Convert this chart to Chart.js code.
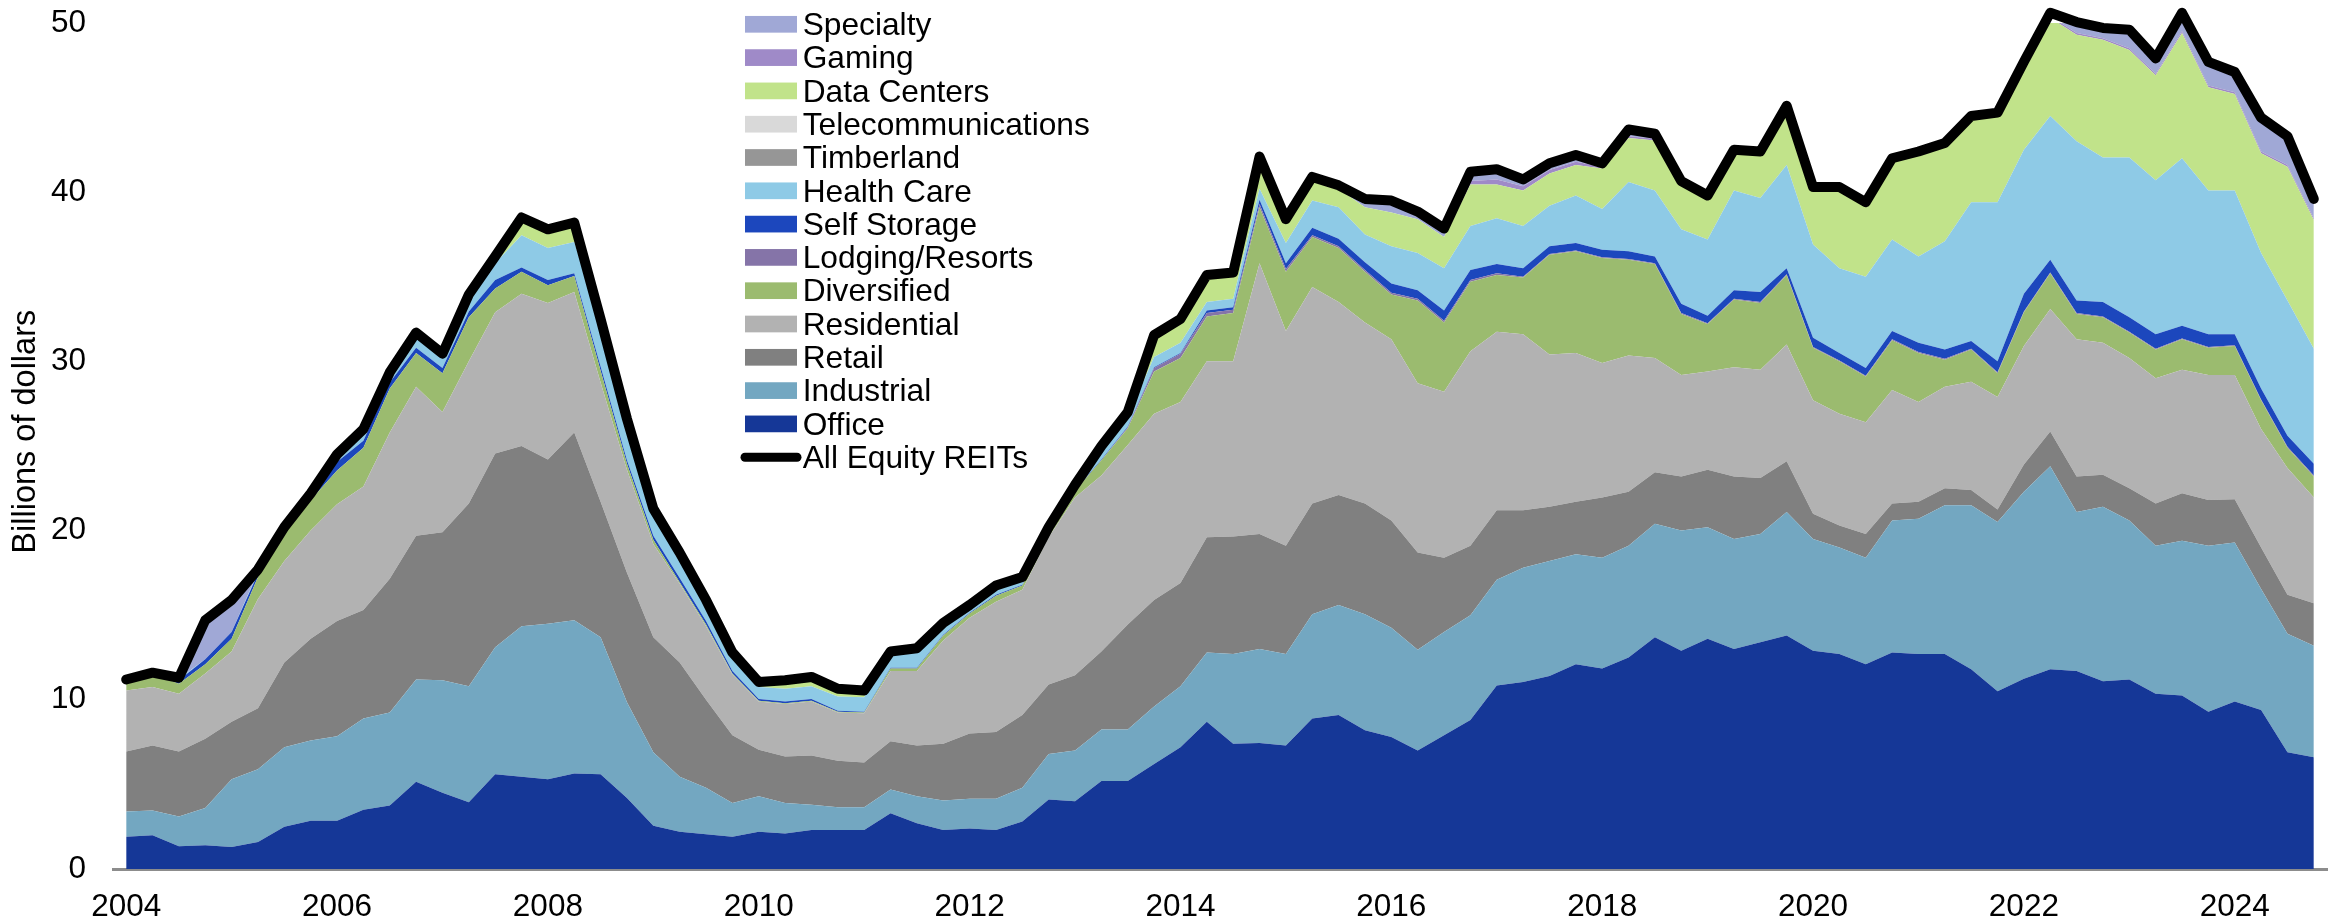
<!DOCTYPE html>
<html>
<head>
<meta charset="utf-8">
<script src="https://cdn.jsdelivr.net/npm/chart.js@4.4.1/dist/chart.umd.min.js"></script>
<style>
html,body{margin:0;padding:0;background:#fff;overflow:hidden;}
#wrap{width:2334px;height:922px;position:relative;}
</style>
</head>
<body>
<div id="wrap"><canvas id="c" width="2334" height="922"></canvas></div>
<script>
// ---- categories / tick labels ----
const yearTicks = ['2004','2006','2008','2010','2012','2014','2016','2018','2020','2022','2024'];
const quarters = [];
for (let y = 2004; y <= 2024; y++) { for (let q = 1; q <= 4; q++) quarters.push(y + 'Q' + q); }
const yAxisTitle = 'Billions of dollars';

// ---- series values (billions of dollars), 2004Q1 .. 2024Q4 ----
const office = [1.9,2.0,1.35,1.4,1.3,1.6,2.5,2.85,2.85,3.5, 3.75,5.15,4.5,3.95,5.6,5.45,5.3,5.65,5.6,4.2, 2.55,2.2,2.05,1.9,2.2,2.1,2.3,2.3,2.3,3.3, 2.7,2.3,2.4,2.3,2.8,4.1,4.0,5.2,5.2,6.2, 7.2,8.7,7.4,7.45,7.3,8.9,9.1,8.2,7.8,7.0, 7.9,8.8,10.85,11.05,11.4,12.1,11.85,12.5,13.7,12.9, 13.6,13.0,13.4,13.8,12.9,12.7,12.1,12.8,12.7,12.7, 11.8,10.5,11.25,11.8,11.7,11.1,11.2,10.35,10.25,9.3, 9.9,9.4,6.9,6.6];
const industrial = [1.5,1.45,1.75,2.2,4.0,4.3,4.7,4.75,5.0,5.4, 5.5,6.05,6.65,6.85,7.5,8.9,9.2,9.05,8.1,5.65, 4.35,3.25,2.75,2.0,2.1,1.8,1.5,1.35,1.35,1.4, 1.6,1.75,1.75,1.85,2.0,2.7,3.0,3.05,3.05,3.4, 3.6,4.1,5.3,5.55,5.4,6.15,6.5,6.85,6.45,5.95, 6.1,6.2,6.25,6.75,6.8,6.5,6.55,6.6,6.7,7.1, 6.6,6.5,6.4,7.3,6.6,6.3,6.3,7.8,8.0,8.8, 9.7,10.0,11.05,12.0,9.4,10.3,9.4,8.75,9.15,9.8, 9.4,7.15,7.0,6.6];
const retail = [3.55,3.85,3.85,4.1,3.4,3.6,5.0,6.0,6.8,6.4, 7.9,8.5,8.75,10.8,11.45,10.65,9.7,11.1,8.0,7.65, 6.8,6.75,5.2,4.0,2.75,2.75,2.9,2.75,2.65,2.85, 3.0,3.35,3.85,3.95,4.3,4.1,4.45,4.6,6.2,6.3, 6.1,6.8,6.95,6.8,6.4,6.55,6.5,6.55,6.35,5.75, 4.4,4.1,4.1,3.4,3.2,3.1,3.55,3.2,3.05,3.2, 3.4,3.7,3.3,3.0,1.5,1.3,1.4,1.0,1.0,1.0, 0.9,0.75,1.6,2.05,2.1,1.9,1.9,2.5,2.8,2.7, 2.55,2.45,2.3,2.5];
const residential = [3.6,3.45,3.4,3.85,4.15,6.45,6.0,6.4,6.9,7.3, 8.65,8.8,7.1,8.4,8.35,9.0,9.25,8.3,7.05,6.1, 5.5,4.65,4.35,3.6,2.85,3.1,3.2,2.85,2.9,4.15, 4.4,6.1,6.85,7.7,7.4,8.7,10.5,10.4,10.6,11.0, 10.7,10.4,10.35,16.0,12.7,12.8,11.4,10.7,10.7,10.0, 9.8,11.5,10.55,10.4,9.0,8.8,7.95,8.05,6.75,6.0, 5.8,6.45,6.4,6.9,6.7,6.6,6.6,6.7,5.9,6.0, 6.4,6.65,7.0,7.25,8.1,7.8,7.7,7.4,7.3,7.4, 7.35,7.0,7.5,6.25];
const diversified = [0.65,0.8,0.6,0.55,0.75,1.3,1.6,1.8,2.0,2.3, 2.6,2.0,2.3,2.6,1.4,1.3,1.05,0.95,0.7,0.35, 0.25,0.1,0.1,0.05,0.05,0.05,0.05,0.05,0.05,0.15, 0.15,0.3,0.25,0.35,0.25,0.3,0.4,0.9,1.0,2.5, 2.6,2.65,2.85,3.3,3.5,2.95,3.2,3.0,2.65,4.9, 4.1,4.1,3.35,3.35,5.9,6.0,6.2,5.65,5.55,3.6, 2.8,4.0,3.95,4.1,3.1,3.1,2.7,2.95,2.9,1.6, 1.9,1.4,2.0,2.1,1.5,1.5,1.5,1.7,1.8,1.6, 1.7,1.7,1.2,1.25];
const lodging = [0,0,0,0,0,0,0,0,0,0, 0,0,0,0,0,0,0,0,0,0, 0,0,0,0,0,0,0,0,0,0, 0,0,0,0,0,0,0,0,0.05,0.2, 0.25,0.2,0.2,0.2,0.15,0.1,0.1,0.1,0.1,0.1, 0.1,0.1,0.1,0.05,0.05,0.05,0.05,0.05,0.05,0.05, 0.05,0.05,0.05,0.05,0.05,0.05,0.05,0.05,0.05,0.05, 0.05,0.05,0.05,0.05,0.05,0.05,0.05,0.05,0.05,0.05, 0.05,0.05,0.05,0.05];
const selfStorage = [0,0,0.2,0.3,0.4,0.2,0.15,0.2,0.5,0.4, 0.35,0.3,0.3,0.35,0.5,0.25,0.3,0.15,0.25,0.2, 0.25,0.25,0.2,0.15,0.1,0.1,0.1,0.05,0.05,0.05, 0.05,0.05,0.05,0.05,0.05,0.05,0.05,0.05,0.05,0.05, 0.05,0.15,0.15,0.25,0.35,0.45,0.45,0.45,0.55,0.5, 0.6,0.6,0.55,0.5,0.45,0.45,0.45,0.45,0.4,0.55, 0.45,0.5,0.6,0.35,0.55,0.45,0.45,0.5,0.55,0.55, 0.45,0.65,1.05,0.75,0.75,0.85,0.85,0.85,0.75,0.75, 0.65,0.65,0.65,0.7];
const healthCare = [0,0,0.1,0,0,0.1,0.1,0.1,0.3,0.5, 0.3,0.6,0.6,0.8,1.0,1.9,1.9,1.85,2.5,2.25, 1.4,1.3,1.1,0.9,0.7,0.75,0.75,0.85,0.85,0.75, 0.9,0.6,0.4,0.45,0.35,0.15,0.2,0.5,0.55,0.6, 0.6,0.5,0.5,0.65,1.2,1.6,1.85,1.65,2.2,2.2, 2.5,2.6,2.7,2.5,2.4,2.8,2.4,4.1,3.9,4.4, 4.5,5.9,5.55,6.1,5.5,5.0,5.4,5.4,5.1,6.4, 8.2,9.4,8.5,8.5,9.4,8.55,9.45,9.1,9.9,8.5, 8.5,8.0,8.0,6.8];
const timberland = [0,0,0,0,0,0,0,0,0,0, 0,0,0,0,0,0,0,0,0,0, 0,0,0,0,0,0,0,0,0,0, 0,0,0,0,0,0,0,0,0,0, 0,0,0,0,0,0,0,0,0,0, 0,0,0,0,0,0,0,0,0,0, 0,0,0,0,0,0,0,0,0,0, 0,0,0,0,0,0,0,0,0,0, 0,0,0,0];
const telecom = [0,0,0,0,0,0,0,0,0,0, 0,0,0,0,0,0,0,0,0,0, 0,0,0,0,0,0,0,0,0,0, 0,0,0,0,0,0,0,0,0,0, 0,0,0,0,0,0,0,0,0,0, 0,0,0,0,0,0,0,0,0,0, 0,0,0,0,0,0,0,0,0,0, 0,0,0,0,0,0,0,0,0,0, 0,0,0,0];
const dataCenters = [0,0,0,0,0,0,0,0,0,0, 0,0,0,0,0.3,1.0,1.1,1.1,0.3,0.2, 0.1,0.1,0.1,0.1,0.15,0.3,0.35,0.25,0.15,0.1, 0.1,0.05,0.05,0.05,0.05,0,0,0.2,0.3,1.2, 1.3,1.5,1.5,1.9,1.3,1.4,1.1,1.6,2.0,2.0, 1.85,2.45,2.0,2.1,1.9,1.8,2.4,2.6,2.95,2.75, 2.4,2.25,2.6,3.4,3.3,4.7,4.35,4.7,6.1,5.7, 5.0,5.25,5.1,5.8,6.3,6.95,6.35,6.2,7.4,6.1, 5.7,5.9,7.9,7.6];
const gaming = [0,0,0,0,0,0,0,0,0,0, 0,0,0,0,0,0,0,0,0,0, 0,0,0,0,0,0,0,0,0,0, 0,0,0,0,0,0,0,0,0,0, 0,0,0,0,0,0,0,0,0,0, 0,0.2,0.3,0.25,0.2,0.2,0.1,0.1,0.1,0.05, 0.05,0.05,0.05,0.05,0.05,0.05,0.05,0.05,0.05,0.05, 0.05,0.05,0.05,0.1,0.1,0.1,0.1,0.1,0.1,0.1, 0.1,0.1,0.1,0.1];
const specialty = [0,0,0,2.3,1.9,0,0,0,0,0, 0,0,0,0,0,0,0,0,0,0, 0,0,0,0,0,0,0,0,0,0, 0,0,0,0,0,0,0,0,0,0, 0,0,0,0,0,0,0.2,0.5,0.6,0.4, 0.4,0.5,0.55,0.35,0.35,0.4,0.2,0.3,0.25,0.1, 0.15,0.1,0.1,0.05,0.05,0.05,0,0.05,0.05,0.05, 0.05,0,0,0.2,0.6,0.6,1.1,0.9,1.1,1.4, 1.1,2.0,1.65,1.2];
const allEquity = [11.2,11.6,11.3,14.7,15.9,17.7,20.2,22.2,24.5,26.0, 29.35,31.7,30.45,33.95,36.2,38.5,37.8,38.2,32.5,26.6, 21.3,18.7,15.9,12.8,11.05,11.15,11.35,10.65,10.55,12.85, 13.05,14.55,15.6,16.75,17.25,20.2,22.7,25.0,27.0,31.55, 32.5,35.1,35.25,42.1,38.4,40.9,40.4,39.6,39.5,38.85, 37.85,41.2,41.35,40.75,41.7,42.2,41.7,43.7,43.45,40.65, 39.8,42.5,42.4,45.1,40.3,40.3,39.4,42.0,42.4,42.9, 44.5,44.7,47.7,50.6,50.05,49.7,49.6,47.9,50.6,47.7, 47.1,44.4,43.3,39.6];

// ---- sector names & colours (stack order, bottom to top) ----
const sectorNames = ['Office','Industrial','Retail','Residential','Diversified','Lodging/Resorts','Self Storage','Health Care','Timberland','Telecommunications','Data Centers','Gaming','Specialty'];
const sectorValues = [office, industrial, retail, residential, diversified, lodging, selfStorage, healthCare, timberland, telecom, dataCenters, gaming, specialty];
const sectorColors = ['#153797','#73A7C1','#808080','#B2B2B2','#9BBB6F','#8574A8','#1C47BD','#8ECAE6','#969696','#D9D9D9','#C1E38A','#9F8AC8','#A0A8D6'];
const totalName = 'All Equity REITs';

const FONT = '"Liberation Sans", Arial, Helvetica, sans-serif';

const datasets = [{
  label: totalName,
  data: allEquity,
  type: 'line',
  borderColor: '#000000',
  backgroundColor: '#000000',
  borderWidth: 10,
  borderCapStyle: 'round',
  borderJoinStyle: 'round',
  fill: false,
  pointRadius: 0,
  pointHoverRadius: 0,
  tension: 0,
  stack: 'total',
  order: 0,
  clip: false
}];
sectorNames.forEach((name, i) => {
  datasets.push({
    label: name,
    data: sectorValues[i],
    backgroundColor: sectorColors[i],
    borderColor: 'rgba(0,0,0,0)',
    borderWidth: 0,
    fill: i === 0 ? 'origin' : '-1',
    pointRadius: 0,
    pointHoverRadius: 0,
    tension: 0,
    stack: 'sectors',
    order: 1,
    clip: false
  });
});

// custom legend + y-axis title drawn on the canvas at the reference positions
const legendPlugin = {
  id: 'refLegend',
  afterDraw(chart) {
    const ctx = chart.ctx;
    ctx.save();
    ctx.font = '31.7px ' + FONT;
    ctx.textBaseline = 'alphabetic';
    ctx.textAlign = 'left';
    const boxX = 745, boxW = 52, boxH = 16.7, textX = 802.7, y0 = 24.3, step = 33.3;
    const items = [];
    for (let i = sectorNames.length - 1; i >= 0; i--) items.push({name: sectorNames[i], color: sectorColors[i], line: false});
    items.push({name: totalName, color: '#000000', line: true});
    items.forEach((it, k) => {
      const cy = y0 + step * k;
      if (it.line) {
        ctx.strokeStyle = it.color;
        ctx.lineWidth = 9;
        ctx.lineCap = 'round';
        ctx.beginPath();
        ctx.moveTo(boxX, cy);
        ctx.lineTo(boxX + boxW, cy);
        ctx.stroke();
      } else {
        ctx.fillStyle = it.color;
        ctx.fillRect(boxX, cy - boxH / 2, boxW, boxH);
      }
      ctx.fillStyle = '#000000';
      ctx.fillText(it.name, textX, cy + 10.7);
    });
    ctx.restore();

    // y-axis title
    ctx.save();
    ctx.translate(26.5, 431.7);
    ctx.rotate(-Math.PI / 2);
    ctx.font = '32.5px ' + FONT;
    ctx.fillStyle = '#000000';
    ctx.textAlign = 'center';
    ctx.textBaseline = 'middle';
    ctx.fillText(yAxisTitle, 0, 0);
    ctx.restore();
  }
};

new Chart(document.getElementById('c'), {
  type: 'line',
  data: { labels: quarters, datasets: datasets },
  options: {
    responsive: false,
    animation: false,
    devicePixelRatio: 1,
    layout: { padding: { left: 0, right: 7, top: 0, bottom: 0 } },
    plugins: {
      legend: { display: false },
      tooltip: { enabled: false },
      filler: { propagate: false }
    },
    elements: { line: { tension: 0 }, point: { radius: 0 } },
    scales: {
      x: {
        type: 'category',
        offset: true,
        grid: { display: false, drawTicks: false },
        border: { display: true, color: '#8C8C8C', width: 3 },
        ticks: {
          autoSkip: false,
          maxRotation: 0,
          minRotation: 0,
          padding: 19,
          color: '#000000',
          font: { family: FONT, size: 31.5 },
          callback: function (val) {
            const lab = this.getLabelForValue(val);
            const yr = lab.slice(0, 4);
            return (lab.endsWith('Q1') && yearTicks.includes(yr)) ? yr : '';
          }
        },
        afterFit: (scale) => { scale.height = 53; }
      },
      y: {
        stacked: true,
        min: 0,
        max: 50,
        grid: { display: false, drawTicks: true, tickLength: 23 },
        border: { display: false },
        ticks: {
          stepSize: 10,
          padding: 4,
          color: '#000000',
          font: { family: FONT, size: 31.5 }
        },
        title: { display: false, text: yAxisTitle },
        afterFit: (scale) => { scale.width = 113; }
      }
    }
  },
  plugins: [legendPlugin]
});
</script>
</body>
</html>
